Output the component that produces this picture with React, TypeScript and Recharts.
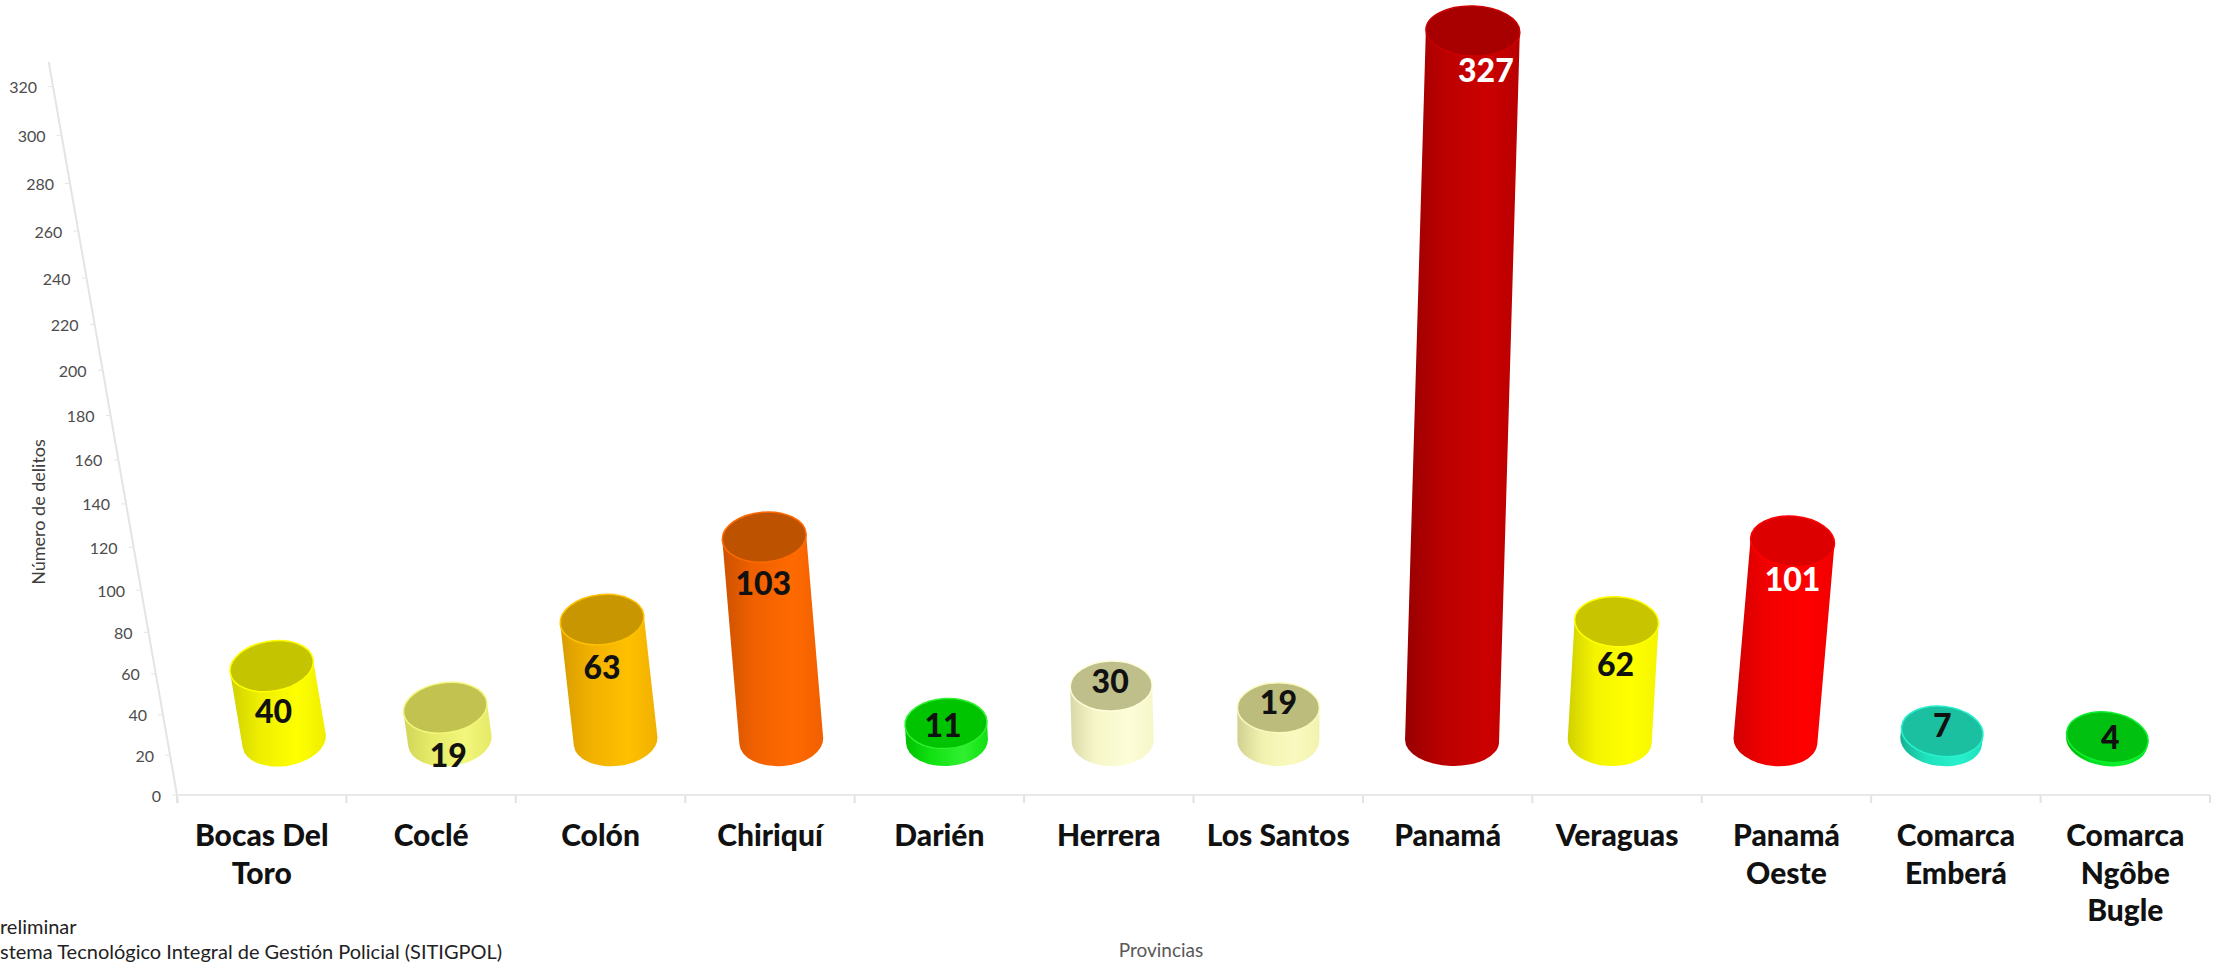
import { Bar, BarChart, XAxis, YAxis } from "recharts";

// values
const categoryLines = [
  ["Bocas Del", "Toro"],
  ["Coclé"],
  ["Colón"],
  ["Chiriquí"],
  ["Darién"],
  ["Herrera"],
  ["Los Santos"],
  ["Panamá"],
  ["Veraguas"],
  ["Panamá", "Oeste"],
  ["Comarca", "Emberá"],
  ["Comarca", "Ngôbe", "Bugle"],
];
const delitos = [40, 19, 63, 103, 11, 30, 19, 327, 62, 101, 7, 4];
const yTicks = [0, 20, 40, 60, 80, 100, 120, 140, 160, 180, 200, 220, 240, 260, 280, 300, 320];
const footerLines = ["reliminar", "stema Tecnológico Integral de Gestión Policial (SITIGPOL)"];

// cylinder colours: [side dark, side mid, side bright, top]
const cylinderColors = [
  ["#d0d000", "#eeee00", "#ffff00", "#c4c400"],
  ["#d0d458", "#e6ea68", "#f2f67a", "#c2c250"],
  ["#d89c00", "#f0b000", "#ffc000", "#c89600"],
  ["#cc5200", "#f06000", "#ff6a00", "#bd5200"],
  ["#00c000", "#10e010", "#30f030", "#00c400"],
  ["#d8d8a8", "#f6f6c8", "#fdfdd8", "#bfbf8c"],
  ["#d0d090", "#f2f2b0", "#fafac0", "#bcbc7c"],
  ["#980000", "#b80000", "#cc0000", "#a80000"],
  ["#d0d000", "#f4f400", "#ffff00", "#c8c400"],
  ["#d00000", "#f00000", "#ff0000", "#dc0000"],
  ["#16b090", "#20e0bc", "#28f0cc", "#1ac0a0"],
  ["#00b000", "#00e020", "#10f030", "#00c010"],
];
const labelColors = ["#111", "#111", "#111", "#111", "#111", "#111", "#111", "#fff", "#111", "#fff", "#111", "#111"];
const labelDx = [2, 3, 0, -1, -3, -1, 0, 13, -1, 0, 0, 3];
const labelDy = [44, 47, 47, 45, 1, -6, -6, 38, 42, 37, -7, -1];
const cylinderRx = [42, 42, 42, 42, 41, 41, 41, 47, 42, 42, 41, 41];
const cylinderNudge = [0, 0, 0, 0, 0, 0, 0, 8, 0, 0, 0, 0];

const WIDTH = 2216;
const HEIGHT = 963;
const PLOT_TOP = 62;
const PLOT_BOTTOM = 795;
const PLOT_LEFT = 177;
const PERSPECTIVE = 0.125;
const Y_MAX = 330;
const AXIS_SLOPE = 0.175;
const BASE_Y = 741;
const RY = 25;
const FONT = "Lato, Carlito, sans-serif";

const depthFraction = (v: number) => {
  const t = v / Y_MAX;
  return (t + PERSPECTIVE * t * t) / (1 + PERSPECTIVE);
};

// the value axis is foreshortened in the original 3D chart
function perspectiveScale(dom: number[] = [0, Y_MAX], rng: number[] = [PLOT_BOTTOM, PLOT_TOP]) {
  let d = dom;
  let r = rng;
  const scale: any = (v: number) => {
    const t = (v - d[0]) / (d[1] - d[0]);
    return r[0] + (r[1] - r[0]) * ((t + PERSPECTIVE * t * t) / (1 + PERSPECTIVE));
  };
  scale.domain = (next?: number[]) => {
    if (!next) return d;
    d = next;
    return scale;
  };
  scale.range = (next?: number[]) => {
    if (!next) return r;
    r = next;
    return scale;
  };
  scale.copy = () => perspectiveScale(d, r);
  scale.ticks = () => yTicks;
  scale.tickFormat = () => (v: number) => String(v);
  return scale;
}

const data = delitos.map((value, i) => ({ name: categoryLines[i].join(" "), value }));

function Cylinder(props: any) {
  const { x, y, width, height, index, value } = props;
  const xc = x + width / 2;
  const vanishX = 1272;
  const tilt = (xc - vanishX) / 6000;
  const baseX = xc + (vanishX - xc) * 0.022 + cylinderNudge[index];
  const val = Array.isArray(value) ? value[1] : value;
  const topY = y - 50 + 0.016 * height;
  const topX = baseX + tilt * (BASE_Y - topY);
  const angle = (Math.atan(tilt) * 180) / Math.PI;
  const ca = Math.cos(Math.atan(tilt));
  const sa = Math.sin(Math.atan(tilt));
  const rx = cylinderRx[index];
  const [, , bright, top] = cylinderColors[index];
  const dx = rx * ca;
  const dy = rx * sa;
  const body = [
    `M ${baseX - dx} ${BASE_Y - dy}`,
    `L ${topX - dx} ${topY - dy}`,
    `L ${topX + dx} ${topY + dy}`,
    `L ${baseX + dx} ${BASE_Y + dy}`,
    `A ${rx} ${RY} ${angle} 0 1 ${baseX - dx} ${BASE_Y - dy}`,
    "Z",
  ].join(" ");
  return (
    <g>
      <path d={body} fill={`url(#cyl${index})`} />
      <ellipse
        cx={topX}
        cy={topY}
        rx={rx}
        ry={RY}
        fill={top}
        stroke={bright}
        strokeWidth={1.5}
        transform={`rotate(${angle} ${topX} ${topY})`}
      />
      <text
        x={topX + labelDx[index]}
        y={topY + labelDy[index]}
        textAnchor="middle"
        dominantBaseline="central"
        fontFamily={FONT}
        fontWeight={900}
        fontSize={32}
        fill={labelColors[index]}
      >
        {val}
      </text>
    </g>
  );
}

function ProvinceTick(props: any) {
  const { x, index } = props;
  const band = (WIDTH - PLOT_LEFT - 6) / categoryLines.length;
  const lines = categoryLines[index] ?? [];
  return (
    <g>
      <line x1={x - band / 2} x2={x - band / 2} y1={PLOT_BOTTOM} y2={PLOT_BOTTOM + 8} stroke="#e2e2e2" strokeWidth={2} />
      {index === categoryLines.length - 1 ? (
        <line x1={x + band / 2} x2={x + band / 2} y1={PLOT_BOTTOM} y2={PLOT_BOTTOM + 8} stroke="#e2e2e2" strokeWidth={2} />
      ) : null}
      <text textAnchor="middle" fontFamily={FONT} fontWeight={900} fontSize={30} fill="#111">
        {lines.map((line: string, i: number) => (
          <tspan key={line} x={x} y={846 + i * 37.5}>
            {line}
          </tspan>
        ))}
      </text>
    </g>
  );
}

function WallTick(props: any) {
  const { x, y, payload } = props;
  const lx = x - (PLOT_BOTTOM - y) * AXIS_SLOPE;
  const v = payload.value;
  const plotH = PLOT_BOTTOM - PLOT_TOP;
  // axis drawn tick by tick because it leans back
  const nextV = Math.min(v + 20, Y_MAX);
  const nextY = PLOT_BOTTOM - plotH * depthFraction(nextV);
  const nextX = x - (PLOT_BOTTOM - nextY) * AXIS_SLOPE;
  return (
    <g>
      <line x1={lx} y1={y} x2={nextX} y2={nextY} stroke="#e4e4e4" strokeWidth={2} />
      {v === 0 ? <line x1={lx} y1={y} x2={lx + 1} y2={y + 8} stroke="#e4e4e4" strokeWidth={2} /> : null}
      <line x1={lx} y1={y} x2={lx - 5} y2={y} stroke="#e4e4e4" strokeWidth={1} />
      <text
        x={lx - 16}
        y={y}
        textAnchor="end"
        dominantBaseline="central"
        fontFamily={FONT}
        fontSize={16}
        fill="#4d4d4d"
      >
        {v}
      </text>
    </g>
  );
}

export default function App() {
  return (
    <div style={{ position: "absolute", left: 0, top: 0, width: WIDTH, height: HEIGHT, background: "#fff", overflow: "hidden" }}>
      <BarChart
        width={WIDTH}
        height={HEIGHT}
        data={data}
        barSize={84}
        margin={{ top: PLOT_TOP, right: 6, bottom: 0, left: 0 }}
      >
        <defs>
          {cylinderColors.map((c, i) => (
            <linearGradient key={i} id={`cyl${i}`} x1="0" x2="1" y1="0" y2="0">
              <stop offset="0%" stopColor={c[0]} />
              <stop offset="30%" stopColor={c[1]} />
              <stop offset="70%" stopColor={c[2]} />
              <stop offset="100%" stopColor={c[1]} />
            </linearGradient>
          ))}
        </defs>
        <XAxis
          dataKey="name"
          height={HEIGHT - PLOT_BOTTOM}
          interval={0}
          tickLine={false}
          tickSize={0}
          tick={ProvinceTick}
          stroke="#e9e9e9"
          strokeWidth={2}
        />
        <YAxis
          width={PLOT_LEFT}
          domain={[0, Y_MAX]}
          ticks={yTicks}
          interval={0}
          scale={perspectiveScale()}
          axisLine={false}
          tickLine={false}
          tickSize={0}
          tickMargin={0}
          tick={WallTick}
        />
        <Bar dataKey="value" isAnimationActive={false} shape={Cylinder} />
      </BarChart>
      <div
        style={{
          position: "absolute",
          left: 38,
          top: 512,
          transform: "translate(-50%,-50%) rotate(-90deg)",
          fontFamily: FONT,
          fontSize: 18,
          color: "#404040",
          whiteSpace: "nowrap",
        }}
      >
        Número de delitos
      </div>
      <div
        style={{
          position: "absolute",
          left: 1161,
          top: 950,
          transform: "translate(-50%,-50%)",
          fontFamily: FONT,
          fontSize: 19,
          lineHeight: "22px",
          color: "#595959",
        }}
      >
        Provincias
      </div>
      {footerLines.map((line, i) => (
        <div
          key={line}
          style={{
            position: "absolute",
            left: 0,
            top: 914 + i * 25,
            fontFamily: FONT,
            fontSize: 20,
            lineHeight: "24px",
            color: "#222",
            whiteSpace: "nowrap",
          }}
        >
          {line}
        </div>
      ))}
    </div>
  );
}
